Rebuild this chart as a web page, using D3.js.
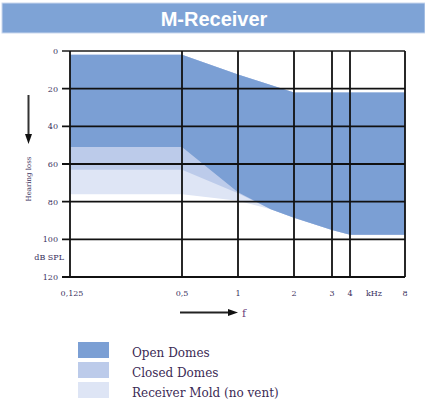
<!DOCTYPE html>
<html>
<head>
<meta charset="utf-8">
<script src="https://cdn.jsdelivr.net/npm/d3@7"></script>
<style>
  body { margin: 0; background: white; }
  svg { display: block; }
</style>
</head>
<body>
<div id="chart"></div>
<script>
// frequency points (kHz) and hearing loss limits (dB)
const freqs = [0.125, 0.5, 1, 1.5, 2, 3, 4, 8];
const upperLimit = [2, 2, 12.5, 18, 22, 22, 22, 22];
const openLower = [51, 51, 75, 84, 88.5, 95, 97.5, 97.5];
const closedLower = [63, 63, 75.5, 84, 88.5, 95, 97.5, 97.5];
const moldLower = [76, 76, 79.5, 84, 88.5, 95, 97.5, 97.5];

const freqTicks = [0.125, 0.5, 1, 2, 3, 4, 8];
const freqLabels = ["0,125", "0,5", "1", "2", "3", "4", "8"];
const dbTicks = [0, 20, 40, 60, 80, 100, 120];

const seriesNames = ["Open Domes", "Closed Domes", "Receiver Mold (no vent)"];
const seriesColors = ["#7b9fd4", "#bccbea", "#dee5f5"];

const width = 425
const height = 404
const textColor = "#3b3160"
const serif = "'DejaVu Serif', serif"

const svg = d3.select("#chart")
  .append("svg")
  .attr("width", width)
  .attr("height", height)

// title bar
svg.append("rect")
  .attr("x", 2)
  .attr("y", 3)
  .attr("width", 423)
  .attr("height", 30)
  .attr("fill", "#7ea3d6")
  .attr("stroke", "#c9d7ee")
  .attr("stroke-width", 1)

svg.append("text")
  .attr("x", 214)
  .attr("y", 26)
  .attr("text-anchor", "middle")
  .attr("font-family", "'Liberation Sans', Arial, sans-serif")
  .attr("font-weight", "bold")
  .attr("font-size", "20px")
  .attr("fill", "white")
  .text("M-Receiver")

// scales (log frequency, grid of the original is slightly uneven above 2 kHz)
var x = d3.scaleLog()
  .domain([0.125, 2, 3, 4, 8])
  .range([70, 294, 332, 350, 405])

var y = d3.scaleLinear()
  .domain([0, 120])
  .range([51, 277])

// areas, lightest first so the darker ones sit on top
var lowers = [openLower, closedLower, moldLower];
for (let i = 2; i >= 0; i--) {
  var area = d3.area()
    .x((d, j) => x(freqs[j]))
    .y0((d, j) => y(upperLimit[j]))
    .y1(d => y(d))

  svg.append("path")
    .datum(lowers[i])
    .attr("fill", seriesColors[i])
    .attr("d", area)
}

// grid
svg.append("g")
  .selectAll("line")
  .data(dbTicks)
  .enter()
  .append("line")
  .attr("x1", 62)
  .attr("x2", x(8))
  .attr("y1", d => y(d))
  .attr("y2", d => y(d))
  .attr("stroke", d => d == 0 ? "#555" : "#111")
  .attr("stroke-width", 1.8)

svg.append("g")
  .selectAll("line")
  .data(freqTicks)
  .enter()
  .append("line")
  .attr("x1", d => x(d))
  .attr("x2", d => x(d))
  .attr("y1", y(0))
  .attr("y2", y(120))
  .attr("stroke", "#111")
  .attr("stroke-width", 1.8)

// y labels
svg.append("g")
  .selectAll("text")
  .data(dbTicks)
  .enter()
  .append("text")
  .attr("x", 58)
  .attr("y", d => y(d) + 3)
  .attr("text-anchor", "end")
  .attr("font-family", serif)
  .attr("font-size", "8px")
  .attr("fill", textColor)
  .text(d => d)

svg.append("text")
  .attr("x", 64)
  .attr("y", 260)
  .attr("text-anchor", "end")
  .attr("font-family", serif)
  .attr("font-size", "8px")
  .attr("fill", textColor)
  .text("dB SPL")

// x labels
svg.append("g")
  .selectAll("text")
  .data(freqTicks)
  .enter()
  .append("text")
  .attr("x", (d, i) => x(d) + (i == 0 ? 2 : 0))
  .attr("y", 296)
  .attr("text-anchor", "middle")
  .attr("font-family", serif)
  .attr("font-size", "8px")
  .attr("fill", textColor)
  .text((d, i) => freqLabels[i])

svg.append("text")
  .attr("x", 374)
  .attr("y", 296)
  .attr("text-anchor", "middle")
  .attr("font-family", serif)
  .attr("font-size", "8px")
  .attr("fill", textColor)
  .text("kHz")

// arrows
svg.append("line")
  .attr("x1", 28.5).attr("x2", 28.5)
  .attr("y1", 95).attr("y2", 136)
  .attr("stroke", "#333")
  .attr("stroke-width", 2)
svg.append("path")
  .attr("d", "M25,134 L32,134 L28.5,144 Z")
  .attr("fill", "#111")

svg.append("text")
  .attr("transform", "translate(31,179) rotate(-90)")
  .attr("text-anchor", "middle")
  .attr("font-family", serif)
  .attr("font-size", "7px")
  .attr("fill", textColor)
  .text("Hearing loss")

svg.append("line")
  .attr("x1", 180).attr("x2", 230)
  .attr("y1", 312.5).attr("y2", 312.5)
  .attr("stroke", "#222")
  .attr("stroke-width", 2)
svg.append("path")
  .attr("d", "M228,309 L238,312.5 L228,316 Z")
  .attr("fill", "#111")

svg.append("text")
  .attr("x", 242)
  .attr("y", 317)
  .attr("font-family", serif)
  .attr("font-size", "11px")
  .attr("fill", "#6a3a7a")
  .text("f")

// legend
var legend = svg.append("g")
  .selectAll("g")
  .data(seriesNames)
  .enter()
  .append("g")
  .attr("transform", (d, i) => "translate(78," + (342 + i * 20) + ")")

legend.append("rect")
  .attr("width", 31)
  .attr("height", 16)
  .attr("fill", (d, i) => seriesColors[i])

legend.append("text")
  .attr("x", 54)
  .attr("y", 14.5)
  .attr("font-family", serif)
  .attr("font-size", "12px")
  .attr("fill", "#3b2a55")
  .text(d => d)
</script>
</body>
</html>
